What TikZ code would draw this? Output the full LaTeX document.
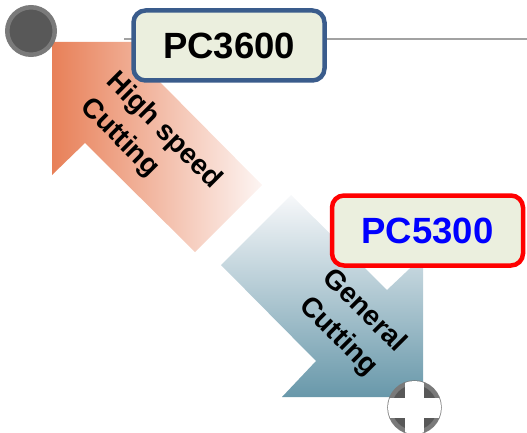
\documentclass[tikz,border=0pt]{standalone}
\usepackage{fontspec}
\setmainfont{Liberation Sans}
\definecolor{orangeL}{RGB}{232,128,88}
\definecolor{orangeR}{RGB}{253,245,243}
\definecolor{blueT}{RGB}{247,248,250}
\definecolor{blueB}{RGB}{104,152,170}
\definecolor{boxfill}{RGB}{235,239,222}
\definecolor{boxblue}{RGB}{58,92,140}
\definecolor{ringgrey}{RGB}{122,122,122}
\definecolor{darkgrey}{RGB}{88,88,88}
\definecolor{linegrey}{RGB}{162,162,162}
\begin{document}
\begin{tikzpicture}[x=1pt,y=-1pt,
  pcbox/.style={rounded corners=12pt, line width=4.5pt, fill=boxfill,
    minimum width=191pt, minimum height=70pt, inner sep=0pt,
    font=\fontsize{36.5}{40}\selectfont\bfseries},
  arrowlabel/.style={rotate=-45, inner sep=0pt,
    font=\fontsize{28}{36}\selectfont\bfseries},
  knob/.style={circle, draw=ringgrey, fill=darkgrey, line width=4.5pt, inner sep=0pt}]
\useasboundingbox (0,0) rectangle (527,433);
% grey line
\coordinate (l1) at (124,39);
\coordinate (l2) at (527,39);
\draw[linegrey, line width=2pt] (l1) -- (l2);
% orange arrow
\shade[left color=orangeL, right color=orangeR]
  (52,42) -- (185,42) -- (153,75) -- (262,185) -- (195,252) -- (85,143) -- (52,175) -- cycle;
% blue arrow
\shade[top color=blueT, bottom color=blueB]
  (291,195) -- (387,290) -- (423,256) -- (423,397) -- (282,397) -- (316,361) -- (221,265) -- cycle;
% labels
\node[arrowlabel, align=left] (hs) at (151,144) {High speed\\Cutting};
\node[arrowlabel, align=center] (gc) at (351,324) {General\\Cutting};
% boxes
\node[pcbox, draw=boxblue, text=black] (pc36) at (229,45.5) {PC3600};
\node[pcbox, draw=red, text=blue] (pc53) at (427.5,230.5) {PC5300};
% knobs
\node[knob, minimum size=47.5pt] (k1) at (31,31) {};
\node[knob, minimum size=50pt] (k2) at (414.5,407.5) {};
\begin{scope}[shift={(k2.center)}]
  \clip (0,0) circle[radius=26.5pt];
  \fill[white] (-9.5,-30) rectangle (9.5,30);
  \fill[white] (-30,-10) rectangle (30,10);
\end{scope}
\end{tikzpicture}
\end{document}
